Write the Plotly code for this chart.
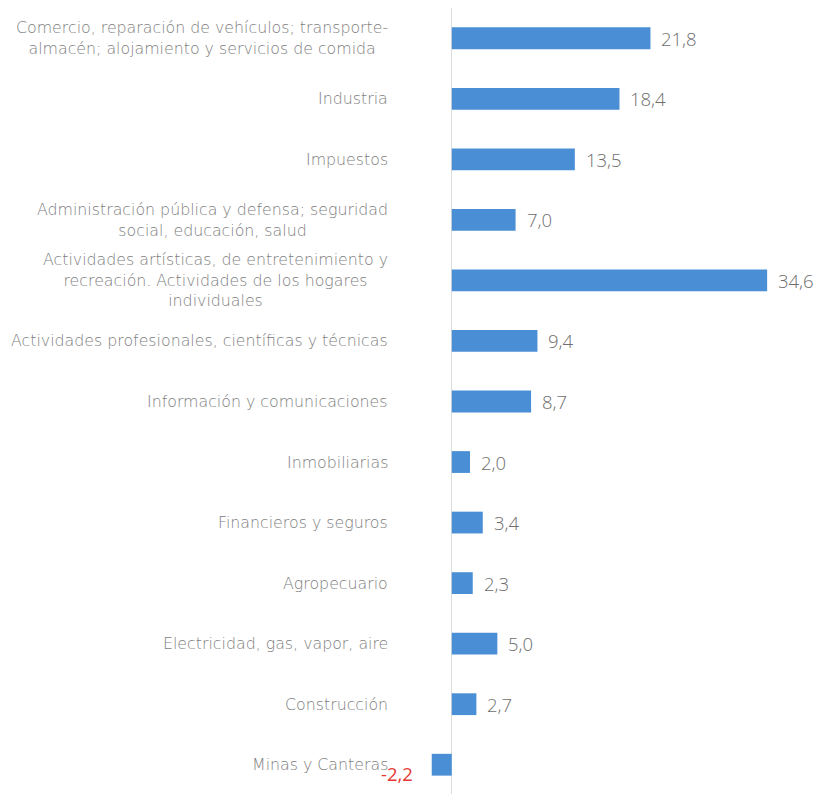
import plotly.graph_objects as go

categories = [
    "Comercio, reparación de vehículos; transporte-<br>almacén; alojamiento y servicios de comida",
    "Industria",
    "Impuestos",
    "Administración pública y defensa; seguridad<br>social, educación, salud",
    "Actividades artísticas, de entretenimiento y<br>recreación. Actividades de los hogares<br>individuales",
    "Actividades profesionales, científicas y técnicas",
    "Información y comunicaciones",
    "Inmobiliarias",
    "Financieros y seguros",
    "Agropecuario",
    "Electricidad, gas, vapor, aire",
    "Construcción",
    "Minas y Canteras",
]
values = [21.8, 18.4, 13.5, 7.0, 34.6, 9.4, 8.7, 2.0, 3.4, 2.3, 5.0, 2.7, -2.2]

LABEL_FONT = "DejaVu Sans"
VALUE_FONT = "Open Sans"
bar_color = "#4a8fd6"

fig = go.Figure()
fig.add_trace(go.Bar(
    y=list(range(len(categories))),
    x=values,
    orientation="h",
    marker=dict(color=bar_color, line=dict(width=0)),
    width=0.36,
    hoverinfo="skip",
))

def fmt(v):
    return f"{v:.1f}".replace(".", ",")

annotations = []
for i, c in enumerate(categories):
    annotations.append(dict(
        x=-0.108, xref="paper", y=i, yref="y",
        text=c, showarrow=False, xanchor="right", yanchor="middle",
        align="center",
        font=dict(family=LABEL_FONT, size=15.8, color="#7e7e7e", weight=200),
    ))
for i, v in enumerate(values):
    if v >= 0:
        annotations.append(dict(
            x=v, xref="x", y=i, yref="y",
            text=fmt(v), showarrow=False,
            xanchor="left", yanchor="middle", xshift=9,
            font=dict(family=VALUE_FONT, size=18.5, color="#6e6e6e", weight=300),
        ))
    else:
        annotations.append(dict(
            x=v, xref="x", y=i, yref="y",
            text=fmt(v), showarrow=False,
            xanchor="right", yanchor="middle", xshift=-17, yshift=-9,
            font=dict(family=VALUE_FONT, size=18.5, color="#e53935", weight=400),
        ))

fig.update_layout(
    width=825, height=794,
    margin=dict(l=421, r=44, t=0, b=7),
    plot_bgcolor="white", paper_bgcolor="white",
    showlegend=False,
    annotations=annotations,
    xaxis=dict(range=[-2.5, 37], showgrid=False, showticklabels=False,
               zeroline=True, zerolinecolor="#dcdcdc", zerolinewidth=1,
               showline=False, fixedrange=True),
    yaxis=dict(range=[12.5, -0.5], showgrid=False, showticklabels=False,
               zeroline=False, showline=False, fixedrange=True),
)

fig.write_html("out.html")
